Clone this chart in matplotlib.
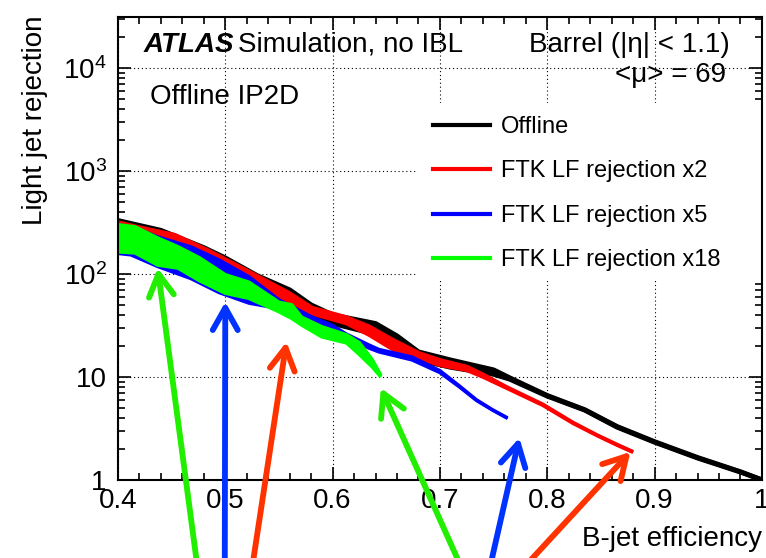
import numpy as np
import matplotlib
matplotlib.use('Agg')
from matplotlib import pyplot as plt
from matplotlib.lines import Line2D
from matplotlib.patches import Rectangle
from matplotlib.ticker import MultipleLocator, LogLocator, NullFormatter

plt.rcParams['font.family'] = ['Liberation Sans', 'DejaVu Sans']
plt.rcParams['mathtext.fontset'] = 'custom'
plt.rcParams['mathtext.rm'] = 'Liberation Sans'
plt.rcParams['mathtext.it'] = 'Liberation Sans:italic'

# b-jet efficiency vs light jet rejection, each curve as an upper/lower band
off_x = [0.40, 0.44, 0.48, 0.50, 0.53, 0.56, 0.58, 0.60, 0.64, 0.66, 0.68, 0.71,
         0.75, 0.765, 0.80, 0.835, 0.865, 0.90, 0.94, 0.98, 1.0]
off_hi = [330, 265, 180, 143, 96, 70, 50, 40, 33, 25, 17.5, 14.6,
          11.7, 9.8, 6.6, 4.8, 3.3, 2.35, 1.65, 1.2, 1.0]
off_lo = [290, 230, 150, 118, 80, 56, 41, 33, 26, 19, 14.6, 12.4,
          10.6, 9.5, 6.5, 4.75, 3.25, 2.32, 1.63, 1.19, 1.0]

x2_x = [0.40, 0.416, 0.453, 0.484, 0.512, 0.559, 0.581, 0.613, 0.634, 0.656, 0.681,
        0.70, 0.725, 0.74, 0.762, 0.796, 0.824, 0.847, 0.865, 0.88]
x2_hi = [318, 290, 240, 170, 120, 66, 47, 38, 31, 23, 17, 14.6, 12.6, 10.6,
         8.0, 5.4, 3.6, 2.7, 2.2, 1.87]
x2_lo = [295, 270, 195, 138, 96, 53, 41, 33, 25.5, 18.5, 15.0, 13.0, 11.6, 10.0,
         7.8, 5.3, 3.55, 2.68, 2.18, 1.86]

x5_x = [0.40, 0.412, 0.437, 0.468, 0.494, 0.522, 0.55, 0.581, 0.599, 0.613, 0.634,
        0.643, 0.674, 0.70, 0.718, 0.734, 0.749, 0.763]
x5_hi = [300, 286, 229, 183, 137, 94, 56, 38, 32, 26, 20.4, 18.5, 15.6, 11.5,
         8.2, 6.0, 4.8, 4.0]
x5_lo = [158, 153, 118, 90, 66, 52, 46, 33, 28, 24, 19, 17.5, 14.6, 11,
         8.0, 5.9, 4.75, 3.95]

x18_x = [0.40, 0.416, 0.437, 0.456, 0.476, 0.50, 0.522, 0.55, 0.562, 0.571, 0.59,
         0.613, 0.625, 0.637, 0.645]
x18_hi = [300, 286, 223, 183, 143, 98, 83, 53, 50, 38, 30.6, 25.6, 21.4, 14.6, 10.3]
x18_lo = [164, 160, 122, 114, 86, 65, 58, 43, 37, 32, 24.5, 21.4, 16.5, 12.5, 10.0]

labels = ['Offline', 'FTK LF rejection x2', 'FTK LF rejection x5', 'FTK LF rejection x18']
colors = ['black', '#ff0000', '#0000ff', '#00ff00']
widths = [3.5, 2.7, 2.4, 2.6]

# annotation arrows: (colour, tip x, tip y, tail x, tail y)
arrows = [
    ('#22ee00', 0.437, 114, 0.475, 0.12),
    ('#0033ff', 0.500, 53.5, 0.4995, 0.12),
    ('#ff3300', 0.557, 21.9, 0.524, 0.12),
    ('#22ee00', 0.645, 7.8, 0.723, 0.12),
    ('#0033ff', 0.774, 2.56, 0.745, 0.12),
    ('#ff3300', 0.8775, 1.87, 0.772, 0.12),
]

FS = 20      # axis and label text
FS_LEG = 17  # legend entries

fig = plt.figure(figsize=(7.66, 5.58), dpi=100)
ax = fig.add_axes([0.154, 0.140, 0.8407, 0.8297])
ax.set_yscale('log')
ax.set_xlim(0.4, 1.0)
ax.set_ylim(1, 31300)
ax.set_axisbelow(True)
ax.grid(True, which='major', color='black', linestyle=(0, (1, 2.5)), lw=0.8)

# white box behind the legend hides the grid there
ax.add_patch(Rectangle((0.466, 0.432), 0.534, 0.382, transform=ax.transAxes,
                       facecolor='white', edgecolor='none', zorder=1))

series = [(off_x, off_hi, off_lo), (x2_x, x2_hi, x2_lo),
          (x5_x, x5_hi, x5_lo), (x18_x, x18_hi, x18_lo)]
for (xs, hi, lo), c, w in zip(series, colors, widths):
    ax.fill_between(xs, lo, hi, color=c, lw=0, zorder=2)
    ax.plot(xs, hi, color=c, lw=w, zorder=2, solid_capstyle='butt')
    ax.plot(xs, lo, color=c, lw=w, zorder=2, solid_capstyle='butt')

handles = [Line2D([], [], color=c, lw=3) for c in colors]
ax.legend(handles, labels, loc='upper left', bbox_to_anchor=(0.489, 0.786),
          frameon=False, fontsize=FS_LEG, handlelength=2.4, handletextpad=0.5,
          labelspacing=0.95, borderpad=0, borderaxespad=0)

ax.xaxis.set_minor_locator(MultipleLocator(0.02))
ax.set_xticks([0.4, 0.5, 0.6, 0.7, 0.8, 0.9, 1.0])
ax.set_xticklabels(['0.4', '0.5', '0.6', '0.7', '0.8', '0.9', '1'])
ax.set_yticks([1, 10, 100, 1000, 10000])
ax.set_yticklabels(['1', '10', r'$10^{2}$', r'$10^{3}$', r'$10^{4}$'])
ax.yaxis.set_minor_locator(LogLocator(base=10, subs=np.arange(2, 10), numticks=20))
ax.yaxis.set_minor_formatter(NullFormatter())

ax.tick_params(which='both', direction='in', top=True, right=True, width=1.2)
ax.tick_params(which='major', length=9.5, labelsize=FS)
ax.tick_params(which='minor', length=5)
ax.tick_params(axis='x', pad=5.5)
ax.tick_params(axis='y', pad=8)
for s in ax.spines.values():
    s.set_linewidth(1.5)

ax.set_xlabel('B-jet efficiency', fontsize=FS, loc='right')
ax.xaxis.set_label_coords(1.0, -0.1)
ax.set_ylabel('Light jet rejection', fontsize=FS, loc='top')
ax.yaxis.set_label_coords(-0.108, 1.004)

ax.text(0.039, 0.9395, 'ATLAS', transform=ax.transAxes, fontsize=FS,
        fontweight='bold', fontstyle='italic', va='center')
ax.text(0.186, 0.9395, 'Simulation, no IBL', transform=ax.transAxes, fontsize=FS,
        va='center')
ax.text(0.950, 0.9395, 'Barrel (|η| < 1.1)', transform=ax.transAxes, fontsize=FS,
        va='center', ha='right')
ax.text(0.944, 0.875, '<μ> = 69', transform=ax.transAxes, fontsize=FS,
        va='center', ha='right')
ax.text(0.0497, 0.827, 'Offline IP2D', transform=ax.transAxes, fontsize=FS,
        va='center')

for c, tx, ty, sx, sy in arrows:
    ax.annotate('', xy=(tx, ty), xytext=(sx, sy), annotation_clip=False,
                arrowprops=dict(arrowstyle='->,head_length=0.8,head_width=0.45',
                                color=c, lw=4.2, mutation_scale=20,
                                shrinkA=0, shrinkB=0), zorder=10)

fig.savefig('out.png', dpi=100)
